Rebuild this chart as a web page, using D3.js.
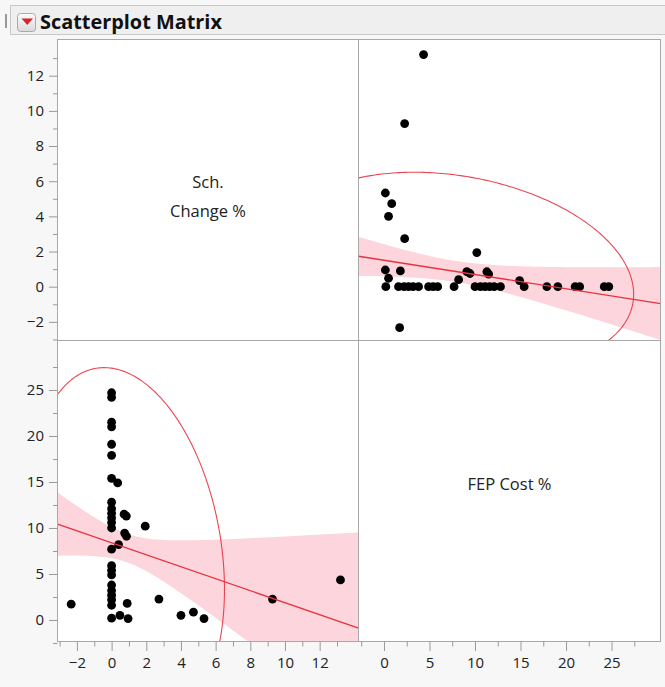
<!DOCTYPE html>
<html><head><meta charset="utf-8">
<script src="https://cdn.jsdelivr.net/npm/d3@7/dist/d3.min.js"></script>
<style>body{margin:0;background:#f7f7f7;} svg{display:block;}</style>
</head><body><svg id="chart" width="665" height="687"></svg>
<script>
// ---------- data ----------
const title = "Scatterplot Matrix";
const variableKeys = ["sch", "fep"];
const variableLabels = [["Sch.", "Change %"], ["FEP Cost %"]];

const schChange = [0,0,0,0,0,0,0,0,0,0,0,0,0,0,0,0,0,0,0,0,0,0,0,
  13.2, 9.28, 5.33, 4.72, 4.0, 2.73, 1.94, 0.95, 0.9, 0.48, 0.86, 0.75, 0.85, 0.72, 0.4, 0.35, -2.33];
const fepCost = [0.2, 1.6, 2.2, 2.7, 3.2, 3.8, 4.9, 5.4, 5.9, 7.7, 10.0, 10.6, 11.1, 11.6, 12.1, 12.8, 15.4, 17.9, 19.1, 21.0, 21.5, 24.2, 24.7,
  4.35, 2.27, 0.15, 0.85, 0.5, 2.27, 10.2, 0.15, 1.8, 0.5, 9.1, 9.45, 11.3, 11.5, 8.2, 14.9, 1.72];

const schTicks = [-2, 0, 2, 4, 6, 8, 10, 12];
const schMinorTicks = [-3, -1, 1, 3, 5, 7, 9, 11, 13];
const fepTicks = [0, 5, 10, 15, 20, 25];
const fepMinorTicks = [-2.5, 2.5, 7.5, 12.5, 17.5, 22.5, 27.5];

// axis ranges (data units)
const schXDomain = [-3.12, 14.24];
const schYDomain = [-3.06, 14.06];
const fepXDomain = [-2.8, 30.38];
const fepYDomain = [-2.34, 30.38];

// fitted statistics
const means = {sch: 0.87, fep: 7.83};
const ellipseRadius = {sch: 5.64, fep: 19.6};
const ellipseRho = -0.23;
const fitSlopes = {fepOnSch: -0.652, schOnFep: -0.081};
const bandWidthAtMean = {fepOnSch: 1.55, schOnFep: 0.6};
const bandWidthGrowth = {fepOnSch: 0.77, schOnFep: 0.088};

// ---------- drawing ----------
const W = 665, H = 687;
const svg = d3.select("#chart");
const defs = svg.append("defs");
svg.append("rect").attr("width", W).attr("height", H).attr("fill", "#f7f7f7");

// header
const g0 = svg.append("g");
g0.append("rect").attr("x", 10.5).attr("y", 5.5).attr("width", W).attr("height", 29)
  .attr("fill", "#efefef").attr("stroke", "#c8c8c8");
g0.append("line").attr("x1", 6).attr("x2", 6).attr("y1", 14).attr("y2", 28)
  .attr("stroke", "#777").attr("stroke-width", 1.5);
const grad = defs.append("linearGradient").attr("id", "btn").attr("x1", 0).attr("x2", 0).attr("y1", 0).attr("y2", 1);
grad.append("stop").attr("offset", "0%").attr("stop-color", "#fbfbfb");
grad.append("stop").attr("offset", "100%").attr("stop-color", "#dadada");
g0.append("rect").attr("x", 17.5).attr("y", 13.5).attr("width", 18).attr("height", 18).attr("rx", 3)
  .attr("fill", "url(#btn)").attr("stroke", "#a9a9a9");
g0.append("path").attr("d", "M21.5,18.5 L33,18.5 L27.25,25 Z").attr("fill", "#d8222c");
const tt = g0.append("text").attr("x", 40).attr("y", 29).text(title)
  .attr("font-family", "'Open Sans', 'Noto Sans', sans-serif").attr("font-weight", "bold")
  .attr("font-size", 20).attr("fill", "#111");
const tw = tt.node().getComputedTextLength();
tt.attr("font-size", 20 * 182 / tw);

// scales
const xScales = {
  sch: d3.scaleLinear().domain(schXDomain).range([57.5, 358.5]),
  fep: d3.scaleLinear().domain(fepXDomain).range([358.5, 660.5])
};
const yScales = {
  sch: d3.scaleLinear().domain(schYDomain).range([340.5, 39.5]),
  fep: d3.scaleLinear().domain(fepYDomain).range([641.5, 340.5])
};
const ticks = {sch: schTicks, fep: fepTicks};
const minor = {sch: schMinorTicks, fep: fepMinorTicks};

const data = schChange.map((s, i) => ({sch: s, fep: fepCost[i]}));

const red = "#e8323f";
const font = "'Open Sans', 'Noto Sans', sans-serif";

variableKeys.forEach((rk, r) => {
  variableKeys.forEach((ck, c) => {
    const xs = xScales[ck], ys = yScales[rk];
    const [x0, x1] = xs.range(), [y1, y0] = ys.range();
    const id = "clip" + r + c;
    defs.append("clipPath").attr("id", id).append("rect")
      .attr("x", x0).attr("y", y0).attr("width", x1 - x0).attr("height", y1 - y0);
    const cell = svg.append("g");
    cell.append("rect").attr("x", x0).attr("y", y0).attr("width", x1 - x0).attr("height", y1 - y0)
      .attr("fill", "#fff");
    if (r === c) {
      const lines = variableLabels[r];
      const cx = (x0 + x1) / 2;
      const baseY = lines.length === 2 ? [188, 216.5] : [490];
      lines.forEach((t, i) => {
        cell.append("text").attr("x", cx).attr("y", baseY[i]).attr("text-anchor", "middle")
          .attr("font-family", font).attr("font-size", 16.5).attr("fill", "#222").text(t);
      });
      return;
    }
    const key = rk === "fep" ? "fepOnSch" : "schOnFep";
    const mx = means[ck], my = means[rk];
    const slope = fitSlopes[key], a = bandWidthAtMean[key], b = bandWidthGrowth[key];
    const fit = x => my + slope * (x - mx);
    const half = x => Math.sqrt(a * a + b * b * (x - mx) * (x - mx));
    const dom = xs.domain();
    const samples = d3.range(0, 121).map(i => dom[0] + (dom[1] - dom[0]) * i / 120);
    const inner = cell.append("g").attr("clip-path", `url(#${id})`);
    inner.append("path").datum(samples)
      .attr("d", d3.area().x(d => xs(d)).y0(d => ys(fit(d) - half(d))).y1(d => ys(fit(d) + half(d))))
      .attr("fill", "#fdd5dc");
    inner.selectAll("circle").data(data).join("circle")
      .attr("cx", d => xs(d[ck])).attr("cy", d => ys(d[rk])).attr("r", 4.4).attr("fill", "#000");
    inner.append("path").datum(dom)
      .attr("d", d3.line().x(d => xs(d)).y(d => ys(fit(d))))
      .attr("stroke", red).attr("stroke-width", 1.3).attr("fill", "none");
    // density ellipse
    const s = Math.sqrt(1 - ellipseRho * ellipseRho);
    const angles = d3.range(0, 361).map(d => d * Math.PI / 180);
    const ell = angles.map(t => {
      const u = Math.cos(t), v = ellipseRho * Math.cos(t) + s * Math.sin(t);
      const p = {sch: means.sch + ellipseRadius.sch * u, fep: means.fep + ellipseRadius.fep * v};
      return [xs(p[ck]), ys(p[rk])];
    });
    inner.append("path").datum(ell).attr("d", d3.line())
      .attr("stroke", red).attr("stroke-width", 1.1).attr("fill", "none").attr("opacity", 0.9);
  });
});

// frame
const frame = svg.append("g").attr("stroke", "#a8a8a8").attr("fill", "none");
frame.append("rect").attr("x", 57.5).attr("y", 39.5).attr("width", 603).attr("height", 602);
frame.append("line").attr("x1", 358.5).attr("x2", 358.5).attr("y1", 39.5).attr("y2", 641.5);
frame.append("line").attr("x1", 57.5).attr("x2", 660.5).attr("y1", 340.5).attr("y2", 340.5);

// axes
function styleAxis(g) {
  g.select(".domain").remove();
  g.selectAll(".tick line").attr("stroke", "#9a9a9a");
  g.selectAll(".tick text").attr("font-family", font).attr("font-size", 15).attr("fill", "#222");
}
variableKeys.forEach(k => {
  svg.append("g").attr("transform", "translate(57.5,0)")
    .call(d3.axisLeft(yScales[k]).tickValues(minor[k]).tickSize(4.5).tickFormat("")).call(styleAxis);
  svg.append("g").attr("transform", "translate(57.5,0)")
    .call(d3.axisLeft(yScales[k]).tickValues(ticks[k]).tickSize(8.5).tickPadding(5).tickFormat(d3.format("d")))
    .call(styleAxis);
  svg.append("g").attr("transform", "translate(0,641.5)")
    .call(d3.axisBottom(xScales[k]).tickValues(minor[k]).tickSize(5).tickFormat("")).call(styleAxis);
  svg.append("g").attr("transform", "translate(0,641.5)")
    .call(d3.axisBottom(xScales[k]).tickValues(ticks[k]).tickSize(9.5).tickPadding(6).tickFormat(d3.format("d")))
    .call(styleAxis);
});
</script></body></html>
